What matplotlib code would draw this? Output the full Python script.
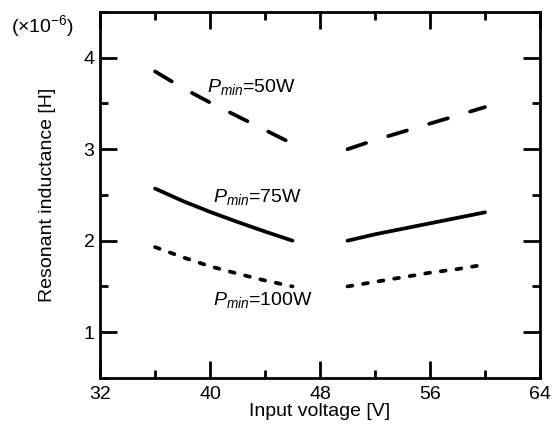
import numpy as np
import matplotlib
matplotlib.use("Agg")
import matplotlib.pyplot as plt
from matplotlib.ticker import MultipleLocator

plt.rcParams['font.family'] = ['Liberation Sans', 'DejaVu Sans']
plt.rcParams['mathtext.fontset'] = 'custom'
plt.rcParams['mathtext.rm'] = 'Liberation Sans'
plt.rcParams['mathtext.it'] = 'Liberation Sans:italic'

# input voltage [V]
v_low = [36, 38, 40, 42, 44, 46]
v_high = [50, 52, 54, 56, 58, 60]

# resonant inductance [x1e-6 H]
l50_low = [3.85, 3.67, 3.51, 3.36, 3.21, 3.06]
l50_high = [3.00, 3.10, 3.19, 3.28, 3.37, 3.46]
l75_low = [2.57, 2.435, 2.315, 2.205, 2.10, 2.00]
l75_high = [2.00, 2.07, 2.13, 2.19, 2.25, 2.31]
l100_low = [1.93, 1.82, 1.72, 1.64, 1.565, 1.50]
l100_high = [1.50, 1.55, 1.60, 1.65, 1.69, 1.74]

fig = plt.figure(figsize=(5.59, 4.28), dpi=100)
ax = fig.add_axes([0.179, 0.117, 0.787, 0.855])

lw = 2.7
for x, y in [(v_low, l50_low), (v_high, l50_high)]:
    ax.plot(x, y, color='black', lw=lw, dashes=(5.2, 6.2), dash_capstyle='round')
for x, y in [(v_low, l75_low), (v_high, l75_high)]:
    ax.plot(x, y, color='black', lw=lw, solid_capstyle='round')
for x, y in [(v_low, l100_low), (v_high, l100_high)]:
    ax.plot(x, y, color='black', lw=lw, dashes=(1.3, 2.9), dash_capstyle='round')

fs = 14
ax.text(39.8, 3.68, r'$\mathit{P}_{\mathit{min}}$=50W', fontsize=fs, va='center')
ax.text(40.2, 2.48, r'$\mathit{P}_{\mathit{min}}$=75W', fontsize=fs, va='center')
ax.text(40.2, 1.35, r'$\mathit{P}_{\mathit{min}}$=100W', fontsize=fs, va='center')

ax.set_xlim(32, 64)
ax.set_ylim(0.5, 4.5)
ax.xaxis.set_major_locator(MultipleLocator(8))
ax.xaxis.set_minor_locator(MultipleLocator(4))
ax.yaxis.set_major_locator(MultipleLocator(1))
ax.yaxis.set_minor_locator(MultipleLocator(0.5))
ax.tick_params(which='both', direction='in', top=True, right=True, labelsize=fs, width=2)
ax.tick_params(which='major', length=12, pad=4)
ax.tick_params(which='minor', length=6)
ax.tick_params(axis='x', which='major', pad=6)
for s in ax.spines.values():
    s.set_linewidth(2)

ax.set_xlabel('Input voltage [V]', fontsize=fs, labelpad=0)
ax.set_ylabel('Resonant inductance [H]', fontsize=fs, labelpad=20)
fig.text(0.02, 0.925, r'($\times$10$^{-6}$)', fontsize=fs)

fig.savefig('out.png', dpi=100)
